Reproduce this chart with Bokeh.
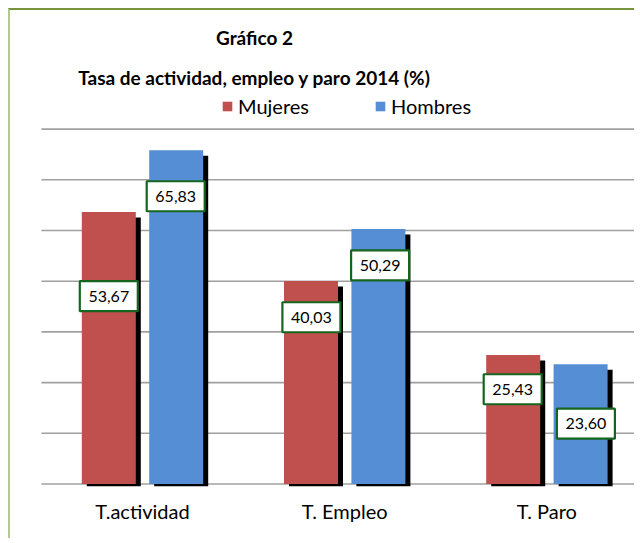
from bokeh.plotting import figure
from bokeh.models import Range1d, FixedTicker, Label, Legend, LegendItem, ColumnDataSource
from bokeh.embed import file_html
from bokeh.resources import INLINE
from bokeh.core.properties import value

# ---------------- data ----------------
categories = ["T.actividad", "T. Empleo", "T. Paro"]
mujeres = [53.67, 40.03, 25.43]
hombres = [65.83, 50.29, 23.60]
series_names = ["Mujeres", "Hombres"]
y_ticks = [0, 10, 20, 30, 40, 50, 60, 70]
title_line1 = "Gráfico 2"
title_line2 = "Tasa de actividad, empleo y paro 2014 (%)"

# ---------------- style / layout ----------------
W, H = 626, 530
FRAME_BOTTOM = 476    # canvas px (from top) of the frame bottom
PX_X = 202.2          # pixels per category
PX_Y = 5.07           # pixels per percentage point
ORIGIN_X = 30.9       # canvas px of x = 0
ZERO_Y = 473.5        # canvas px of y = 0 (from top)
BOTTOM_BORDER = H - FRAME_BOTTOM

RED = "#C0504D"
BLUE = "#558ED5"
GRID = "#A0A0A0"
BOX_GREEN = "#16651F"
FONT = "Lato"

BAR_W_PX = 54
BAR_OFF_PX = 33.7
SHADOW_DX_PX = 5
SHADOW_DY_PX = 5.5
# manual placement of the value boxes (pixels below the bar top, x shift)
drop_muj_px = [84.3, 36.2, 34.2]
drop_hom_px = [46.0, 36.3, 59.3]
dx_muj_px = [0.0, 0.4, -0.5]
dx_hom_px = [-0.5, 1.7, 5.3]

ux = 1.0 / PX_X
uy = 1.0 / PX_Y

p = figure(width=W, height=H, output_backend="svg", toolbar_location=None,
           x_range=Range1d(-ORIGIN_X * ux, (W - ORIGIN_X) * ux),
           y_range=Range1d(-(FRAME_BOTTOM - ZERO_Y) * uy, ZERO_Y * uy),
           y_axis_location=None,
           min_border_left=0, min_border_right=0, min_border_top=0,
           min_border_bottom=BOTTOM_BORDER)
p.outline_line_color = None
p.background_fill_color = "white"
p.border_fill_color = "white"
p.grid.visible = False
p.styles = {"margin-top": "8px", "margin-left": "8px",
            "border-top": "2px solid #77933C", "border-left": "2px solid #B3CA8C"}

xc = [i + 0.5 for i in range(len(categories))]

# gridlines (0..70)
p.segment(x0=[0] * len(y_ticks), x1=[len(categories)] * len(y_ticks),
          y0=y_ticks, y1=y_ticks, line_color=GRID, line_width=1.6)

src = ColumnDataSource(dict(
    xm=[x - BAR_OFF_PX * ux for x in xc],
    xh=[x + BAR_OFF_PX * ux for x in xc],
    xms=[x - BAR_OFF_PX * ux + SHADOW_DX_PX * ux for x in xc],
    xhs=[x + BAR_OFF_PX * ux + SHADOW_DX_PX * ux for x in xc],
    muj=mujeres, hom=hombres,
    mujs=[v - SHADOW_DY_PX * uy for v in mujeres],
    homs=[v - SHADOW_DY_PX * uy for v in hombres],
))
sb = -(FRAME_BOTTOM - ZERO_Y) * uy
p.vbar(x="xms", top="mujs", bottom=sb, width=BAR_W_PX * ux, source=src,
       fill_color="black", line_color=None)
p.vbar(x="xhs", top="homs", bottom=sb, width=BAR_W_PX * ux, source=src,
       fill_color="black", line_color=None)
r_m = p.vbar(x="xm", top="muj", bottom=0, width=BAR_W_PX * ux, source=src,
             fill_color=RED, line_color=None)
r_h = p.vbar(x="xh", top="hom", bottom=0, width=BAR_W_PX * ux, source=src,
             fill_color=BLUE, line_color=None)

# value boxes
lx = ([x - BAR_OFF_PX * ux + d * ux for x, d in zip(xc, dx_muj_px)] +
      [x + BAR_OFF_PX * ux + d * ux for x, d in zip(xc, dx_hom_px)])
ly = ([v - d * uy for v, d in zip(mujeres, drop_muj_px)] +
      [v - d * uy for v, d in zip(hombres, drop_hom_px)])
lt = [f"{v:.2f}".replace(".", ",") for v in mujeres + hombres]
lsrc = ColumnDataSource(dict(x=lx, y=ly, t=lt))
p.rect(x="x", y="y", width=58, height=30, width_units="screen", height_units="screen",
       source=lsrc, fill_color="white", line_color=BOX_GREEN, line_width=2.2)
p.text(x="x", y="y", text="t", source=lsrc, text_align="center", text_baseline="middle",
       text_font=value(FONT), text_font_size="16px", text_color="black")

# x axis
p.xaxis.ticker = FixedTicker(ticks=xc)
p.xaxis.major_label_overrides = {x: c for x, c in zip(xc, categories)}
p.xaxis.axis_line_color = None
p.xaxis.major_tick_line_color = None
p.xaxis.minor_tick_line_color = None
p.xaxis.major_label_text_font = FONT
p.xaxis.major_label_text_font_size = "20px"
p.xaxis.major_label_text_color = "black"
p.xaxis.major_label_standoff = 6

# titles
p.add_layout(Label(x=244, y=FRAME_BOTTOM - 27, x_units="screen", y_units="screen",
                   text=title_line1, text_align="center", text_baseline="alphabetic",
                   text_font=FONT, text_font_style="bold", text_font_size="19px",
                   text_color="black"))
p.add_layout(Label(x=244, y=FRAME_BOTTOM - 67, x_units="screen", y_units="screen",
                   text=title_line2, text_align="center", text_baseline="alphabetic",
                   text_font=FONT, text_font_style="bold", text_font_size="19px",
                   text_color="black"))

legend = Legend(items=[LegendItem(label=series_names[0], renderers=[r_m]),
                       LegendItem(label=series_names[1], renderers=[r_h])],
                location=(211, FRAME_BOTTOM - 108), orientation="horizontal",
                glyph_width=12, glyph_height=12, label_standoff=5, label_width=136,
                spacing=0, padding=0, margin=0,
                label_text_font=FONT, label_text_font_size="20px", label_text_color="black",
                border_line_alpha=0, background_fill_alpha=0)
p.add_layout(legend)

open("out.html", "w").write(file_html(p, INLINE))
